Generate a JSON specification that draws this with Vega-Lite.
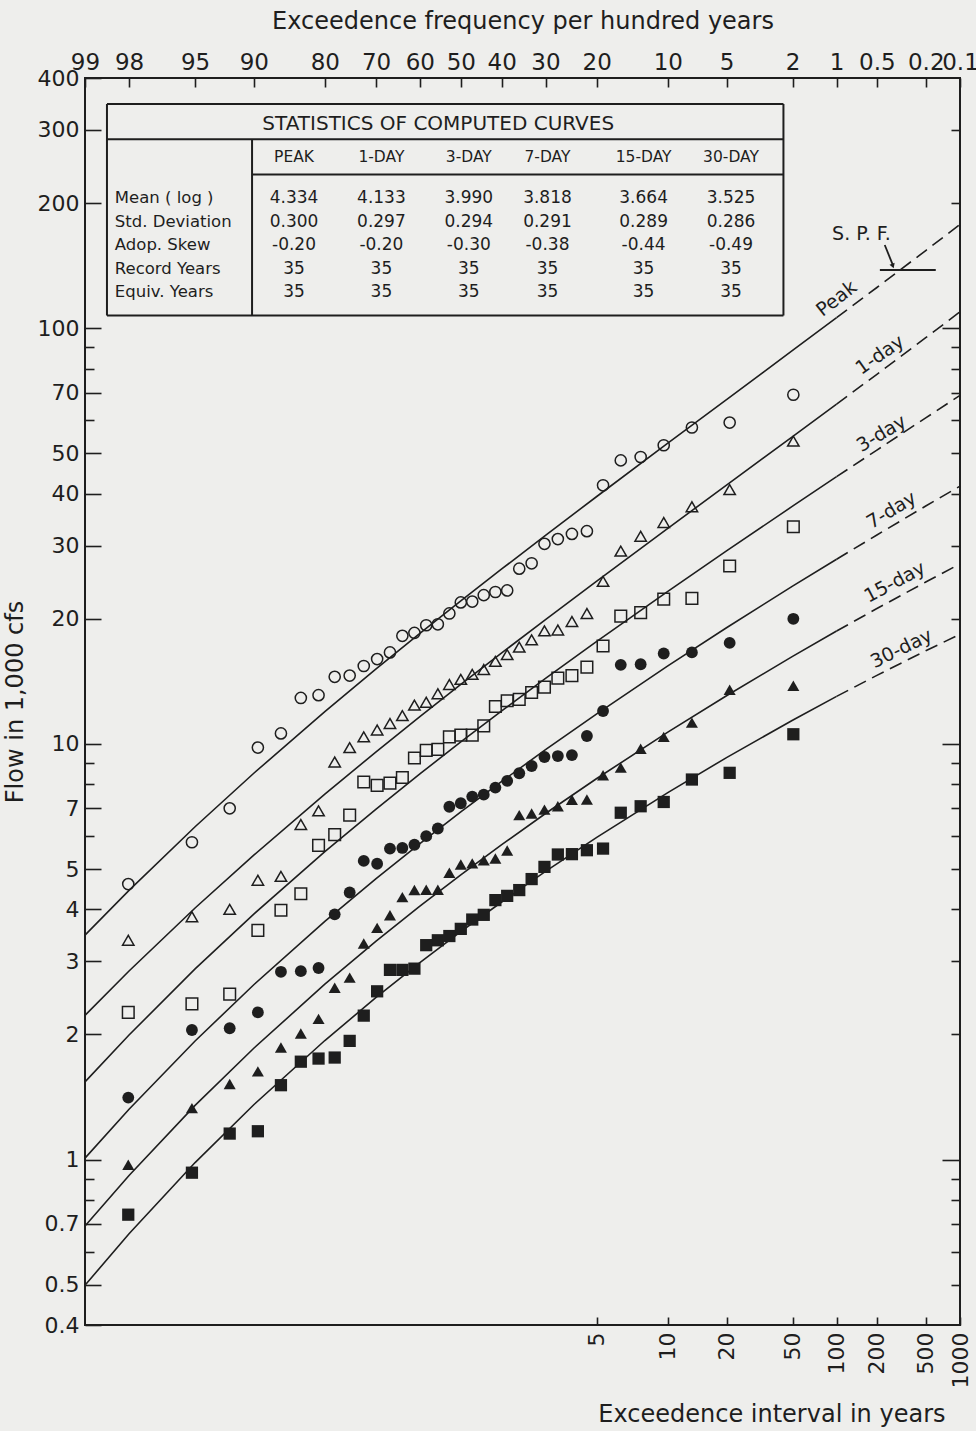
{
  "$schema": "https://vega.github.io/schema/vega-lite/v6.json",
  "width": 875,
  "height": 1247,
  "autosize": {"type": "none"},
  "padding": {"left": 85, "top": 78, "right": 16, "bottom": 106},
  "background": "#eeeeec",
  "config": {
    "font": "DejaVu Sans",
    "view": {"stroke": "#1e1e1e", "strokeWidth": 2},
    "axis": {"domain": false, "grid": false, "tickColor": "#1e1e1e", "tickWidth": 1.6, "labelColor": "#1e1e1e", "titleColor": "#1e1e1e", "labelFont": "DejaVu Sans", "titleFont": "DejaVu Sans", "labelFontSize": 22, "titleFontSize": 24, "titleFontWeight": "normal", "labelOverlap": false, "labelBound": false, "labelFlush": false},
    "text": {"font": "DejaVu Sans", "color": "#1e1e1e"}
  },
  "datasets": {
    "curves": [
      {"pct": 99, "Peak": 3.467, "1-day": 2.223, "3-day": 1.538, "7-day": 1.008, "15-day": 0.692, "30-day": 0.4985},
      {"pct": 98, "Peak": 4.443, "1-day": 2.842, "3-day": 1.994, "7-day": 1.322, "15-day": 0.916, "30-day": 0.6633},
      {"pct": 95, "Peak": 6.32, "1-day": 4.029, "3-day": 2.875, "7-day": 1.929, "15-day": 1.35, "30-day": 0.9836},
      {"pct": 90, "Peak": 8.5, "1-day": 5.401, "3-day": 3.896, "7-day": 2.634, "15-day": 1.853, "30-day": 1.355},
      {"pct": 80, "Peak": 11.958, "1-day": 7.574, "3-day": 5.504, "7-day": 3.74, "15-day": 2.642, "30-day": 1.934},
      {"pct": 70, "Peak": 15.153, "1-day": 9.57, "3-day": 6.971, "7-day": 4.744, "15-day": 3.353, "30-day": 2.455},
      {"pct": 60, "Peak": 18.447, "1-day": 11.627, "3-day": 8.472, "7-day": 5.759, "15-day": 4.07, "30-day": 2.976},
      {"pct": 50, "Peak": 22.078, "1-day": 13.899, "3-day": 10.108, "7-day": 6.86, "15-day": 4.842, "30-day": 3.534},
      {"pct": 40, "Peak": 26.354, "1-day": 16.557, "3-day": 12.005, "7-day": 8.125, "15-day": 5.723, "30-day": 4.166},
      {"pct": 30, "Peak": 31.757, "1-day": 19.917, "3-day": 14.375, "7-day": 9.685, "15-day": 6.801, "30-day": 4.934},
      {"pct": 20, "Peak": 39.379, "1-day": 24.646, "3-day": 17.651, "7-day": 11.813, "15-day": 8.256, "30-day": 5.959},
      {"pct": 10, "Peak": 52.9, "1-day": 33.004, "3-day": 23.29, "7-day": 15.41, "15-day": 10.671, "30-day": 7.637},
      {"pct": 5, "Peak": 67.37, "1-day": 41.945, "3-day": 29.14, "7-day": 19.032, "15-day": 13.06, "30-day": 9.27},
      {"pct": 2, "Peak": 88.44, "1-day": 54.88, "3-day": 37.32, "7-day": 23.96, "15-day": 16.244, "30-day": 11.403},
      {"pct": 1, "Peak": 106.05, "1-day": 65.7, "3-day": 43.94, "7-day": 27.82, "15-day": 18.69, "30-day": 13.016},
      {"pct": 0.5, "Peak": 125.33, "1-day": 77.5, "3-day": 50.93, "7-day": 31.82, "15-day": 21.17, "30-day": 14.62},
      {"pct": 0.2, "Peak": 153.79, "1-day": 94.9, "3-day": 60.88, "7-day": 37.35, "15-day": 24.52, "30-day": 16.75},
      {"pct": 0.1, "Peak": 177.66, "1-day": 109.53, "3-day": 68.94, "7-day": 41.71, "15-day": 27.11, "30-day": 18.36}
    ],
    "points": [
      {"m": 1, "pct": 1.977, "Peak": 69.2, "1-day": 53.5, "3-day": 33.3, "7-day": 20.0, "15-day": 13.8, "30-day": 10.55},
      {"m": 2, "pct": 4.802, "Peak": 59.3, "1-day": 40.9, "3-day": 26.8, "7-day": 17.5, "15-day": 13.5, "30-day": 8.52},
      {"m": 3, "pct": 7.627, "Peak": 57.7, "1-day": 37.2, "3-day": 22.4, "7-day": 16.6, "15-day": 11.25, "30-day": 8.21},
      {"m": 4, "pct": 10.452, "Peak": 52.3, "1-day": 34.1, "3-day": 22.3, "7-day": 16.5, "15-day": 10.4, "30-day": 7.25},
      {"m": 5, "pct": 13.277, "Peak": 49.0, "1-day": 31.6, "3-day": 20.7, "7-day": 15.55, "15-day": 9.74, "30-day": 7.08},
      {"m": 6, "pct": 16.102, "Peak": 48.1, "1-day": 29.1, "3-day": 20.3, "7-day": 15.5, "15-day": 8.77, "30-day": 6.83},
      {"m": 7, "pct": 18.927, "Peak": 41.9, "1-day": 24.6, "3-day": 17.2, "7-day": 12.0, "15-day": 8.41, "30-day": 5.6},
      {"m": 8, "pct": 21.751, "Peak": 32.5, "1-day": 20.6, "3-day": 15.3, "7-day": 10.45, "15-day": 7.35, "30-day": 5.55},
      {"m": 9, "pct": 24.576, "Peak": 32.0, "1-day": 19.7, "3-day": 14.6, "7-day": 9.4, "15-day": 7.34, "30-day": 5.43},
      {"m": 10, "pct": 27.401, "Peak": 31.1, "1-day": 18.8, "3-day": 14.4, "7-day": 9.35, "15-day": 7.08, "30-day": 5.42},
      {"m": 11, "pct": 30.226, "Peak": 30.3, "1-day": 18.7, "3-day": 13.7, "7-day": 9.3, "15-day": 6.95, "30-day": 5.06},
      {"m": 12, "pct": 33.051, "Peak": 27.2, "1-day": 17.8, "3-day": 13.3, "7-day": 8.85, "15-day": 6.8, "30-day": 4.73},
      {"m": 13, "pct": 35.876, "Peak": 26.4, "1-day": 17.1, "3-day": 12.8, "7-day": 8.5, "15-day": 6.74, "30-day": 4.45},
      {"m": 14, "pct": 38.701, "Peak": 23.4, "1-day": 16.4, "3-day": 12.7, "7-day": 8.15, "15-day": 5.54, "30-day": 4.31},
      {"m": 15, "pct": 41.525, "Peak": 23.2, "1-day": 15.8, "3-day": 12.3, "7-day": 7.85, "15-day": 5.3, "30-day": 4.21},
      {"m": 16, "pct": 44.35, "Peak": 22.8, "1-day": 15.1, "3-day": 11.05, "7-day": 7.55, "15-day": 5.25, "30-day": 3.88},
      {"m": 17, "pct": 47.175, "Peak": 22.0, "1-day": 14.7, "3-day": 10.5, "7-day": 7.47, "15-day": 5.16, "30-day": 3.78},
      {"m": 18, "pct": 50.0, "Peak": 21.9, "1-day": 14.3, "3-day": 10.5, "7-day": 7.2, "15-day": 5.13, "30-day": 3.59},
      {"m": 19, "pct": 52.825, "Peak": 20.6, "1-day": 13.9, "3-day": 10.4, "7-day": 7.06, "15-day": 4.9, "30-day": 3.45},
      {"m": 20, "pct": 55.65, "Peak": 19.4, "1-day": 13.2, "3-day": 9.7, "7-day": 6.26, "15-day": 4.46, "30-day": 3.37},
      {"m": 21, "pct": 58.475, "Peak": 19.3, "1-day": 12.6, "3-day": 9.65, "7-day": 6.0, "15-day": 4.46, "30-day": 3.28},
      {"m": 22, "pct": 61.299, "Peak": 18.5, "1-day": 12.4, "3-day": 9.25, "7-day": 5.72, "15-day": 4.45, "30-day": 2.88},
      {"m": 23, "pct": 64.124, "Peak": 18.2, "1-day": 11.7, "3-day": 8.3, "7-day": 5.62, "15-day": 4.28, "30-day": 2.86},
      {"m": 24, "pct": 66.949, "Peak": 16.6, "1-day": 11.2, "3-day": 8.05, "7-day": 5.6, "15-day": 3.87, "30-day": 2.86},
      {"m": 25, "pct": 69.774, "Peak": 16.0, "1-day": 10.8, "3-day": 7.95, "7-day": 5.15, "15-day": 3.61, "30-day": 2.54},
      {"m": 26, "pct": 72.599, "Peak": 15.4, "1-day": 10.4, "3-day": 8.1, "7-day": 5.23, "15-day": 3.31, "30-day": 2.22},
      {"m": 27, "pct": 75.424, "Peak": 14.6, "1-day": 9.8, "3-day": 6.74, "7-day": 4.39, "15-day": 2.74, "30-day": 1.93},
      {"m": 28, "pct": 78.249, "Peak": 14.5, "1-day": 9.05, "3-day": 6.05, "7-day": 3.89, "15-day": 2.59, "30-day": 1.76},
      {"m": 29, "pct": 81.073, "Peak": 13.1, "1-day": 6.9, "3-day": 5.7, "7-day": 2.89, "15-day": 2.18, "30-day": 1.75},
      {"m": 30, "pct": 83.898, "Peak": 12.9, "1-day": 6.4, "3-day": 4.36, "7-day": 2.84, "15-day": 2.01, "30-day": 1.72},
      {"m": 31, "pct": 86.723, "Peak": 10.6, "1-day": 4.8, "3-day": 3.98, "7-day": 2.83, "15-day": 1.86, "30-day": 1.51},
      {"m": 32, "pct": 89.548, "Peak": 9.8, "1-day": 4.7, "3-day": 3.56, "7-day": 2.26, "15-day": 1.63, "30-day": 1.17},
      {"m": 33, "pct": 92.373, "Peak": 7.0, "1-day": 4.0, "3-day": 2.5, "7-day": 2.07, "15-day": 1.52, "30-day": 1.155},
      {"m": 34, "pct": 95.198, "Peak": 5.8, "1-day": 3.84, "3-day": 2.37, "7-day": 2.05, "15-day": 1.33, "30-day": 0.93},
      {"m": 35, "pct": 98.023, "Peak": 4.6, "1-day": 3.37, "3-day": 2.26, "7-day": 1.41, "15-day": 0.972, "30-day": 0.737}
    ],
    "clabels": [
      {"label": "Peak", "pct": 1.0, "flow": 117.8},
      {"label": "1-day", "pct": 0.474, "flow": 86.3},
      {"label": "3-day", "pct": 0.46, "flow": 55.8},
      {"label": "7-day", "pct": 0.384, "flow": 36.5},
      {"label": "15-day", "pct": 0.361, "flow": 24.5},
      {"label": "30-day", "pct": 0.319, "flow": 16.96}
    ],
    "spfText": [{"text": "S. P. F.", "pct": 0.657, "flow": 168.9}],
    "spfLines": [
      {"pct": 0.474, "pct2": 0.164, "flow": 138.1, "flow2": 138.1},
      {"pct": 0.434, "pct2": 0.376, "flow": 158.6, "flow2": 142.5}
    ],
    "spfHead": [{"pct": 0.374, "flow": 141.2}],
    "tlines": [
      {"c1": -1.14, "c2": 6.6, "r1": -1, "r2": -1},
      {"c1": -1.14, "c2": 6.6, "r1": 8, "r2": 8},
      {"c1": -1.14, "c2": -1.14, "r1": -1, "r2": 8},
      {"c1": 6.6, "c2": 6.6, "r1": -1, "r2": 8},
      {"c1": -1.14, "c2": 6.6, "r1": 0.5, "r2": 0.5},
      {"c1": 0.52, "c2": 6.6, "r1": 2, "r2": 2},
      {"c1": 0.52, "c2": 0.52, "r1": 0.5, "r2": 8}
    ],
    "ttext": [
      {"part": "title", "col": 2.65, "row": -0.15, "text": "STATISTICS OF COMPUTED CURVES"},
      {"part": "header", "col": 1, "row": 1.25, "text": "PEAK"},
      {"part": "header", "col": 2, "row": 1.25, "text": "1-DAY"},
      {"part": "header", "col": 3, "row": 1.25, "text": "3-DAY"},
      {"part": "header", "col": 3.9, "row": 1.25, "text": "7-DAY"},
      {"part": "header", "col": 5, "row": 1.25, "text": "15-DAY"},
      {"part": "header", "col": 6, "row": 1.25, "text": "30-DAY"},
      {"part": "label", "col": -1.05, "row": 3, "text": "Mean ( log )"},
      {"part": "label", "col": -1.05, "row": 4, "text": "Std. Deviation"},
      {"part": "label", "col": -1.05, "row": 5, "text": "Adop. Skew"},
      {"part": "label", "col": -1.05, "row": 6, "text": "Record Years"},
      {"part": "label", "col": -1.05, "row": 7, "text": "Equiv.  Years"},
      {"part": "value", "col": 1, "row": 3, "text": "4.334"},
      {"part": "value", "col": 2, "row": 3, "text": "4.133"},
      {"part": "value", "col": 3, "row": 3, "text": "3.990"},
      {"part": "value", "col": 3.9, "row": 3, "text": "3.818"},
      {"part": "value", "col": 5, "row": 3, "text": "3.664"},
      {"part": "value", "col": 6, "row": 3, "text": "3.525"},
      {"part": "value", "col": 1, "row": 4, "text": "0.300"},
      {"part": "value", "col": 2, "row": 4, "text": "0.297"},
      {"part": "value", "col": 3, "row": 4, "text": "0.294"},
      {"part": "value", "col": 3.9, "row": 4, "text": "0.291"},
      {"part": "value", "col": 5, "row": 4, "text": "0.289"},
      {"part": "value", "col": 6, "row": 4, "text": "0.286"},
      {"part": "value", "col": 1, "row": 5, "text": "-0.20"},
      {"part": "value", "col": 2, "row": 5, "text": "-0.20"},
      {"part": "value", "col": 3, "row": 5, "text": "-0.30"},
      {"part": "value", "col": 3.9, "row": 5, "text": "-0.38"},
      {"part": "value", "col": 5, "row": 5, "text": "-0.44"},
      {"part": "value", "col": 6, "row": 5, "text": "-0.49"},
      {"part": "value", "col": 1, "row": 6, "text": "35"},
      {"part": "value", "col": 2, "row": 6, "text": "35"},
      {"part": "value", "col": 3, "row": 6, "text": "35"},
      {"part": "value", "col": 3.9, "row": 6, "text": "35"},
      {"part": "value", "col": 5, "row": 6, "text": "35"},
      {"part": "value", "col": 6, "row": 6, "text": "35"},
      {"part": "value", "col": 1, "row": 7, "text": "35"},
      {"part": "value", "col": 2, "row": 7, "text": "35"},
      {"part": "value", "col": 3, "row": 7, "text": "35"},
      {"part": "value", "col": 3.9, "row": 7, "text": "35"},
      {"part": "value", "col": 5, "row": 7, "text": "35"},
      {"part": "value", "col": 6, "row": 7, "text": "35"}
    ]
  },
  "layer": [
    {
      "layer": [
        {
          "data": {"name": "curves"},
          "transform": [
            {"fold": ["Peak", "1-day", "3-day", "7-day", "15-day", "30-day"], "as": ["series", "flow"]},
            {"filter": "datum.pct >= 1"},
            {"calculate": "quantileNormal(1 - datum.pct/100)", "as": "z"}
          ],
          "mark": {"type": "line", "stroke": "#1e1e1e", "strokeWidth": 1.6},
          "encoding": {
            "x": {"field": "z", "type": "quantitative", "scale": {"domain": [-2.326348, 3.090232], "nice": false, "zero": false},
              "axis": {"orient": "top", "values": [-2.326348, -2.053749, -1.644854, -1.281552, -0.841621, -0.524401, -0.253347, 0, 0.253347, 0.524401, 0.841621, 1.281552, 1.644854, 2.053749, 2.326348, 2.575829, 2.878162, 3.090232],
                "labelExpr": "format(100*(1-cumulativeNormal(datum.value)), '.2~r')", "tickSize": -9, "labelPadding": 13, "labelFontSize": 23,
                "title": "Exceedence frequency per hundred years", "titlePadding": 18}},
            "y": {"field": "flow", "type": "quantitative", "scale": {"type": "log", "domain": [0.4, 400], "nice": false},
              "axis": {"orient": "left", "values": [0.4, 0.5, 0.7, 1, 2, 3, 4, 5, 7, 10, 20, 30, 40, 50, 70, 100, 200, 300, 400],
                "labelExpr": "datum.value < 1 ? format(datum.value, '.1f') : format(datum.value, 'd')", "tickSize": -16, "labelPadding": 22, "labelFontSize": 22,
                "title": "Flow in 1,000 cfs", "titlePadding": 10}},
            "detail": {"field": "series"}
          }
        },
        {
          "data": {"name": "curves"},
          "transform": [
            {"fold": ["Peak", "1-day", "3-day", "7-day", "15-day", "30-day"], "as": ["series", "flow"]},
            {"filter": "datum.pct <= 1"},
            {"calculate": "quantileNormal(1 - datum.pct/100)", "as": "z"}
          ],
          "mark": {"type": "line", "stroke": "#1e1e1e", "strokeWidth": 1.6, "strokeDash": [13, 7]},
          "encoding": {
            "x": {"field": "z", "type": "quantitative", "scale": {"domain": [-2.326348, 3.090232], "nice": false, "zero": false},
              "axis": {"orient": "bottom", "values": [0.841621, 1.281552, 1.644854, 2.053749, 2.326348, 2.575829, 2.878162, 3.090232],
                "labelExpr": "format(1/(1-cumulativeNormal(datum.value)), '.0f')", "labelAngle": 270, "tickSize": -8, "labelPadding": 15, "labelFontSize": 22,
                "title": "Exceedence interval in years", "titleAnchor": "end", "titleAlign": "right", "titleX": 860, "titlePadding": 15}},
            "y": {"field": "flow", "type": "quantitative", "scale": {"type": "log", "domain": [0.4, 400], "nice": false},
              "axis": {"orient": "right", "values": [1, 10, 100], "labels": false, "tickSize": -18, "title": null}},
            "detail": {"field": "series"}
          }
        },
        {
          "data": {"name": "points"},
          "transform": [
            {"fold": ["Peak", "1-day", "3-day", "7-day", "15-day", "30-day"], "as": ["series", "flow"]},
            {"filter": {"field": "series", "oneOf": ["Peak", "1-day", "3-day"]}},
            {"calculate": "quantileNormal(1 - datum.pct/100)", "as": "z"}
          ],
          "mark": {"type": "point", "filled": false, "stroke": "#1e1e1e", "strokeWidth": 1.5, "opacity": 1},
          "encoding": {
            "x": {"field": "z", "type": "quantitative", "scale": {"domain": [-2.326348, 3.090232], "nice": false, "zero": false}, "axis": null},
            "y": {"field": "flow", "type": "quantitative", "scale": {"type": "log", "domain": [0.4, 400], "nice": false},
              "axis": {"orient": "left", "values": [0.6, 0.8, 0.9, 6, 8, 9, 60, 80, 90], "labels": false, "tickSize": -9, "title": null}},
            "shape": {"field": "series", "type": "nominal", "scale": {"domain": ["Peak", "1-day", "3-day", "7-day", "15-day", "30-day"], "range": ["circle", "triangle-up", "square", "circle", "triangle-up", "square"]}, "legend": null},
            "size": {"field": "series", "type": "ordinal", "scale": {"domain": ["Peak", "1-day", "3-day", "7-day", "15-day", "30-day"], "range": [125, 150, 170, 85, 110, 95]}, "legend": null}
          }
        },
        {
          "data": {"name": "points"},
          "transform": [
            {"fold": ["Peak", "1-day", "3-day", "7-day", "15-day", "30-day"], "as": ["series", "flow"]},
            {"filter": {"field": "series", "oneOf": ["7-day", "15-day", "30-day"]}},
            {"calculate": "quantileNormal(1 - datum.pct/100)", "as": "z"}
          ],
          "mark": {"type": "point", "filled": true, "color": "#1e1e1e", "opacity": 1},
          "encoding": {
            "x": {"field": "z", "type": "quantitative", "scale": {"domain": [-2.326348, 3.090232], "nice": false, "zero": false}, "axis": null},
            "y": {"field": "flow", "type": "quantitative", "scale": {"type": "log", "domain": [0.4, 400], "nice": false},
              "axis": {"orient": "right", "values": [0.5, 0.6, 0.7, 0.8, 0.9, 2, 3, 4, 5, 6, 7, 8, 9, 20, 30, 40, 50, 60, 70, 80, 90, 200, 300], "labels": false, "tickSize": -9, "title": null}},
            "shape": {"field": "series", "type": "nominal", "scale": {"domain": ["Peak", "1-day", "3-day", "7-day", "15-day", "30-day"], "range": ["circle", "triangle-up", "square", "circle", "triangle-up", "square"]}, "legend": null},
            "size": {"field": "series", "type": "ordinal", "scale": {"domain": ["Peak", "1-day", "3-day", "7-day", "15-day", "30-day"], "range": [125, 150, 170, 85, 110, 95]}, "legend": null}
          }
        },
        {
          "data": {"name": "clabels"},
          "transform": [{"filter": "datum.label === 'Peak'"}, {"calculate": "quantileNormal(1 - datum.pct/100)", "as": "z"}],
          "mark": {"type": "text", "angle": 322, "fontSize": 19, "align": "center", "baseline": "middle"},
          "encoding": {
            "x": {"field": "z", "type": "quantitative", "scale": {"domain": [-2.326348, 3.090232], "nice": false, "zero": false}, "axis": null},
            "y": {"field": "flow", "type": "quantitative", "scale": {"type": "log", "domain": [0.4, 400], "nice": false}, "axis": null},
            "text": {"field": "label"}
          }
        },
        {
          "data": {"name": "clabels"},
          "transform": [{"filter": "datum.label === '1-day'"}, {"calculate": "quantileNormal(1 - datum.pct/100)", "as": "z"}],
          "mark": {"type": "text", "angle": 325, "fontSize": 19, "align": "center", "baseline": "middle"},
          "encoding": {
            "x": {"field": "z", "type": "quantitative", "scale": {"domain": [-2.326348, 3.090232], "nice": false, "zero": false}, "axis": null},
            "y": {"field": "flow", "type": "quantitative", "scale": {"type": "log", "domain": [0.4, 400], "nice": false}, "axis": null},
            "text": {"field": "label"}
          }
        },
        {
          "data": {"name": "clabels"},
          "transform": [{"filter": "datum.label === '3-day'"}, {"calculate": "quantileNormal(1 - datum.pct/100)", "as": "z"}],
          "mark": {"type": "text", "angle": 329, "fontSize": 19, "align": "center", "baseline": "middle"},
          "encoding": {
            "x": {"field": "z", "type": "quantitative", "scale": {"domain": [-2.326348, 3.090232], "nice": false, "zero": false}, "axis": null},
            "y": {"field": "flow", "type": "quantitative", "scale": {"type": "log", "domain": [0.4, 400], "nice": false}, "axis": null},
            "text": {"field": "label"}
          }
        },
        {
          "data": {"name": "clabels"},
          "transform": [{"filter": "datum.label === '7-day'"}, {"calculate": "quantileNormal(1 - datum.pct/100)", "as": "z"}],
          "mark": {"type": "text", "angle": 329, "fontSize": 19, "align": "center", "baseline": "middle"},
          "encoding": {
            "x": {"field": "z", "type": "quantitative", "scale": {"domain": [-2.326348, 3.090232], "nice": false, "zero": false}, "axis": null},
            "y": {"field": "flow", "type": "quantitative", "scale": {"type": "log", "domain": [0.4, 400], "nice": false}, "axis": null},
            "text": {"field": "label"}
          }
        },
        {
          "data": {"name": "clabels"},
          "transform": [{"filter": "datum.label === '15-day'"}, {"calculate": "quantileNormal(1 - datum.pct/100)", "as": "z"}],
          "mark": {"type": "text", "angle": 332, "fontSize": 19, "align": "center", "baseline": "middle"},
          "encoding": {
            "x": {"field": "z", "type": "quantitative", "scale": {"domain": [-2.326348, 3.090232], "nice": false, "zero": false}, "axis": null},
            "y": {"field": "flow", "type": "quantitative", "scale": {"type": "log", "domain": [0.4, 400], "nice": false}, "axis": null},
            "text": {"field": "label"}
          }
        },
        {
          "data": {"name": "clabels"},
          "transform": [{"filter": "datum.label === '30-day'"}, {"calculate": "quantileNormal(1 - datum.pct/100)", "as": "z"}],
          "mark": {"type": "text", "angle": 334, "fontSize": 19, "align": "center", "baseline": "middle"},
          "encoding": {
            "x": {"field": "z", "type": "quantitative", "scale": {"domain": [-2.326348, 3.090232], "nice": false, "zero": false}, "axis": null},
            "y": {"field": "flow", "type": "quantitative", "scale": {"type": "log", "domain": [0.4, 400], "nice": false}, "axis": null},
            "text": {"field": "label"}
          }
        },
        {
          "data": {"name": "spfText"},
          "transform": [{"calculate": "quantileNormal(1 - datum.pct/100)", "as": "z"}],
          "mark": {"type": "text", "fontSize": 19, "align": "center", "baseline": "middle"},
          "encoding": {
            "x": {"field": "z", "type": "quantitative", "scale": {"domain": [-2.326348, 3.090232], "nice": false, "zero": false}, "axis": null},
            "y": {"field": "flow", "type": "quantitative", "scale": {"type": "log", "domain": [0.4, 400], "nice": false}, "axis": null},
            "text": {"field": "text"}
          }
        },
        {
          "data": {"name": "spfLines"},
          "transform": [{"calculate": "quantileNormal(1 - datum.pct/100)", "as": "z"}, {"calculate": "quantileNormal(1 - datum.pct2/100)", "as": "z2"}],
          "mark": {"type": "rule", "stroke": "#1e1e1e", "strokeWidth": 1.8},
          "encoding": {
            "x": {"field": "z", "type": "quantitative", "scale": {"domain": [-2.326348, 3.090232], "nice": false, "zero": false}, "axis": null},
            "x2": {"field": "z2"},
            "y": {"field": "flow", "type": "quantitative", "scale": {"type": "log", "domain": [0.4, 400], "nice": false}, "axis": null},
            "y2": {"field": "flow2"}
          }
        },
        {
          "data": {"name": "spfHead"},
          "transform": [{"calculate": "quantileNormal(1 - datum.pct/100)", "as": "z"}],
          "mark": {"type": "point", "shape": "triangle-down", "filled": true, "color": "#1e1e1e", "size": 30, "angle": 340, "opacity": 1},
          "encoding": {
            "x": {"field": "z", "type": "quantitative", "scale": {"domain": [-2.326348, 3.090232], "nice": false, "zero": false}, "axis": null},
            "y": {"field": "flow", "type": "quantitative", "scale": {"type": "log", "domain": [0.4, 400], "nice": false}, "axis": null}
          }
        }
      ],
      "resolve": {"axis": {"x": "independent", "y": "independent"}}
    },
    {
      "layer": [
        {
          "data": {"name": "tlines"},
          "mark": {"type": "rule", "stroke": "#1e1e1e", "strokeWidth": 2},
          "encoding": {
            "x": {"field": "c1", "type": "quantitative", "scale": {"domain": [-1.3913, 8.6201], "nice": false, "zero": false}, "axis": null},
            "x2": {"field": "c2"},
            "y": {"field": "r1", "type": "quantitative", "scale": {"domain": [-2.1064, 50.957], "nice": false, "zero": false, "reverse": true}, "axis": null},
            "y2": {"field": "r2"}
          }
        },
        {
          "data": {"name": "ttext"},
          "transform": [{"filter": "datum.part === 'title'"}],
          "mark": {"type": "text", "fontSize": 20, "align": "center", "baseline": "middle"},
          "encoding": {
            "x": {"field": "col", "type": "quantitative", "scale": {"domain": [-1.3913, 8.6201], "nice": false, "zero": false}, "axis": null},
            "y": {"field": "row", "type": "quantitative", "scale": {"domain": [-2.1064, 50.957], "nice": false, "zero": false, "reverse": true}, "axis": null},
            "text": {"field": "text"}
          }
        },
        {
          "data": {"name": "ttext"},
          "transform": [{"filter": "datum.part === 'header'"}],
          "mark": {"type": "text", "fontSize": 15.5, "align": "center", "baseline": "middle"},
          "encoding": {
            "x": {"field": "col", "type": "quantitative", "scale": {"domain": [-1.3913, 8.6201], "nice": false, "zero": false}, "axis": null},
            "y": {"field": "row", "type": "quantitative", "scale": {"domain": [-2.1064, 50.957], "nice": false, "zero": false, "reverse": true}, "axis": null},
            "text": {"field": "text"}
          }
        },
        {
          "data": {"name": "ttext"},
          "transform": [{"filter": "datum.part === 'label'"}],
          "mark": {"type": "text", "fontSize": 16.5, "align": "left", "baseline": "middle"},
          "encoding": {
            "x": {"field": "col", "type": "quantitative", "scale": {"domain": [-1.3913, 8.6201], "nice": false, "zero": false}, "axis": null},
            "y": {"field": "row", "type": "quantitative", "scale": {"domain": [-2.1064, 50.957], "nice": false, "zero": false, "reverse": true}, "axis": null},
            "text": {"field": "text"}
          }
        },
        {
          "data": {"name": "ttext"},
          "transform": [{"filter": "datum.part === 'value'"}],
          "mark": {"type": "text", "fontSize": 17, "align": "center", "baseline": "middle"},
          "encoding": {
            "x": {"field": "col", "type": "quantitative", "scale": {"domain": [-1.3913, 8.6201], "nice": false, "zero": false}, "axis": null},
            "y": {"field": "row", "type": "quantitative", "scale": {"domain": [-2.1064, 50.957], "nice": false, "zero": false, "reverse": true}, "axis": null},
            "text": {"field": "text"}
          }
        }
      ]
    }
  ],
  "resolve": {"scale": {"x": "independent", "y": "independent"}}
}
